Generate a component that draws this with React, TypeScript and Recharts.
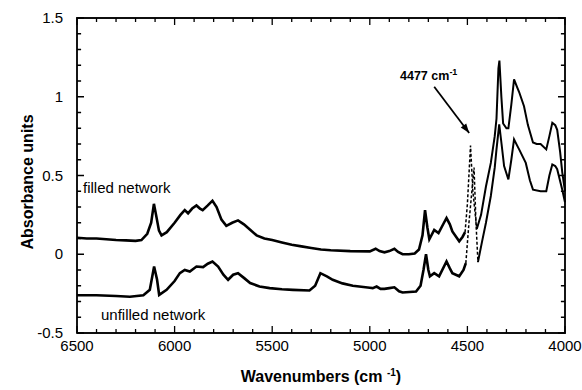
import { LineChart, Line, XAxis, YAxis, ReferenceLine, Customized } from "recharts";

// [wavenumber cm-1, absorbance]
const filledMain: [number, number][] = [
  [6500, 0.105], [6450, 0.1], [6400, 0.1], [6350, 0.095], [6300, 0.09], [6250, 0.088],
  [6200, 0.085], [6170, 0.09], [6140, 0.13], [6120, 0.2], [6106, 0.32], [6095, 0.25],
  [6080, 0.15], [6067, 0.12], [6040, 0.14], [6000, 0.2], [5970, 0.25], [5948, 0.28],
  [5931, 0.26], [5910, 0.29], [5888, 0.31], [5870, 0.29], [5856, 0.28], [5830, 0.31],
  [5806, 0.34], [5785, 0.3], [5760, 0.22], [5735, 0.18], [5705, 0.2], [5675, 0.215],
  [5645, 0.19], [5613, 0.155], [5580, 0.12], [5540, 0.1], [5500, 0.09], [5450, 0.075],
  [5400, 0.06], [5350, 0.05], [5300, 0.04], [5250, 0.03], [5200, 0.025], [5100, 0.02],
  [5000, 0.018], [4970, 0.035], [4950, 0.02], [4925, 0.012], [4900, 0.02], [4874, 0.035],
  [4855, 0.015], [4832, 0], [4800, 0], [4770, 0.005], [4748, 0.03], [4730, 0.12],
  [4717, 0.28], [4705, 0.17], [4695, 0.095], [4670, 0.155], [4648, 0.135], [4620, 0.2],
  [4607, 0.23], [4590, 0.19], [4577, 0.145], [4542, 0.082], [4525, 0.11], [4512, 0.14],
];
const filledGap: [number, number][] = [
  [4512, 0.14], [4500, 0.32], [4484, 0.69], [4472, 0.4], [4452, 0.16],
];
const filledTail: [number, number][] = [
  [4452, 0.16], [4430, 0.25], [4405, 0.43], [4380, 0.58], [4360, 0.75], [4351, 0.86],
  [4341, 1.18], [4336, 1.23], [4326, 1.0], [4317, 0.83], [4300, 0.8], [4290, 0.8],
  [4275, 0.95], [4261, 1.11], [4245, 1.06], [4235, 1.03], [4210, 0.94], [4190, 0.82],
  [4164, 0.71], [4145, 0.7], [4125, 0.7], [4096, 0.666], [4080, 0.75], [4065, 0.835],
  [4050, 0.82], [4040, 0.79], [4025, 0.65], [4014, 0.52], [4000, 0.4],
];

const unfilledMain: [number, number][] = [
  [6500, -0.26], [6400, -0.26], [6300, -0.265], [6229, -0.27], [6160, -0.26], [6127, -0.226],
  [6105, -0.078], [6090, -0.16], [6079, -0.258], [6041, -0.226], [6000, -0.17], [5973, -0.12],
  [5948, -0.1], [5922, -0.11], [5888, -0.078], [5854, -0.082], [5830, -0.06], [5806, -0.046],
  [5777, -0.078], [5750, -0.13], [5726, -0.162], [5700, -0.13], [5675, -0.12], [5645, -0.15],
  [5613, -0.183], [5565, -0.205], [5513, -0.215], [5450, -0.222], [5394, -0.226], [5309, -0.23],
  [5280, -0.2], [5253, -0.12], [5220, -0.14], [5190, -0.162], [5140, -0.185], [5087, -0.2],
  [5000, -0.213], [4985, -0.215], [4965, -0.205], [4945, -0.22], [4925, -0.22], [4900, -0.215],
  [4874, -0.21], [4850, -0.235], [4832, -0.243], [4763, -0.237], [4740, -0.2], [4725, -0.1],
  [4712, 0], [4700, -0.1], [4692, -0.14], [4670, -0.12], [4645, -0.14], [4607, -0.046],
  [4590, -0.09], [4577, -0.12], [4542, -0.14], [4520, -0.1], [4508, -0.056],
];
const unfilledGap: [number, number][] = [
  [4508, -0.056], [4492, 0.2], [4466, 0.55], [4456, 0.2], [4446, -0.05],
];
const unfilledTail: [number, number][] = [
  [4446, -0.05], [4425, 0.08], [4405, 0.2], [4380, 0.37], [4360, 0.55], [4351, 0.666],
  [4337, 0.825], [4325, 0.7], [4312, 0.56], [4290, 0.475], [4275, 0.6], [4261, 0.73],
  [4245, 0.69], [4235, 0.666], [4201, 0.58], [4180, 0.47], [4164, 0.41], [4125, 0.4],
  [4096, 0.4], [4080, 0.5], [4065, 0.57], [4050, 0.56], [4040, 0.54], [4014, 0.41],
  [4000, 0.33],
];

const xTicks = [
  6500, 6400, 6300, 6200, 6100, 6000, 5900, 5800, 5700, 5600, 5500, 5400, 5300,
  5200, 5100, 5000, 4900, 4800, 4700, 4600, 4500, 4400, 4300, 4200, 4100, 4000,
];
const yTicks = [
  -0.5, -0.4, -0.3, -0.2, -0.1, 0, 0.1, 0.2, 0.3, 0.4, 0.5, 0.6, 0.7, 0.8, 0.9, 1,
  1.1, 1.2, 1.3, 1.4, 1.5,
];
const X_DOMAIN: [number, number] = [4000, 6500];
const Y_DOMAIN: [number, number] = [-0.5, 1.5];
const arrowFrom = { w: 4670, a: 1.063 };
const arrowTo = { w: 4491, a: 0.77 };

const toRows = (pts: [number, number][]) => pts.map(([w, a]) => ({ w, a }));

const FONT = '"Liberation Sans", Arial, Helvetica, sans-serif';
const isMajorX = (v: number) => v % 500 === 0;
const isMajorY = (v: number) => Math.abs(v * 2 - Math.round(v * 2)) < 1e-6;

// inward tick lengths, in data units (about 7px major / 4px minor)
const xTickLen = (v: number) => (isMajorX(v) ? 0.045 : 0.026);
const yTickLen = (v: number) => (isMajorY(v) ? 36 : 21);

const [X0, X1] = X_DOMAIN;
const [Y0, Y1] = Y_DOMAIN;

// frame and tick marks as polylines through the chart's own scales
const frameRows = [
  { w: X1, a: Y0 }, { w: X0, a: Y0 }, { w: X0, a: Y1 }, { w: X1, a: Y1 }, { w: X1, a: Y0 },
];
const bottomTickRows = xTicks.flatMap((t) => [
  { w: t, a: Y0 }, { w: t, a: Y0 + xTickLen(t) }, { w: t, a: Y0 },
]);
const topTickRows = xTicks.flatMap((t) => [
  { w: t, a: Y1 }, { w: t, a: Y1 - xTickLen(t) }, { w: t, a: Y1 },
]);
const leftTickRows = yTicks.flatMap((t) => [
  { w: X1, a: t }, { w: X1 - yTickLen(t), a: t }, { w: X1, a: t },
]);
const rightTickRows = yTicks.flatMap((t) => [
  { w: X0, a: t }, { w: X0 + yTickLen(t), a: t }, { w: X0, a: t },
]);

const BottomLabel = (props: any) => {
  const { x, y, payload } = props;
  if (!isMajorX(payload.value)) return <g />;
  return (
    <text x={x} y={y + 18} textAnchor="middle" fontSize={15} fontFamily={FONT} fill="#000">
      {payload.value}
    </text>
  );
};

const LeftLabel = (props: any) => {
  const { x, y, payload } = props;
  if (!isMajorY(payload.value)) return <g />;
  return (
    <text x={x - 14} y={y + 5} textAnchor="end" fontSize={15} fontFamily={FONT} fill="#000">
      {String(payload.value)}
    </text>
  );
};

const Arrow = (props: any) => {
  const { x1, y1, x2, y2 } = props;
  const ang = Math.atan2(y2 - y1, x2 - x1);
  const len = 10;
  const spread = 0.35;
  const p1 = [x2 - len * Math.cos(ang - spread), y2 - len * Math.sin(ang - spread)];
  const p2 = [x2 - len * Math.cos(ang + spread), y2 - len * Math.sin(ang + spread)];
  return (
    <g>
      <line x1={x1} y1={y1} x2={x2} y2={y2} stroke="#000" strokeWidth={1.8} />
      <polygon points={`${x2},${y2} ${p1[0]},${p1[1]} ${p2[0]},${p2[1]}`} fill="#000" />
    </g>
  );
};

const Annotations = () => (
  <g fontFamily={FONT} fill="#000">
    <text x={83} y={193} fontSize={15}>filled network</text>
    <text x={101} y={320} fontSize={15}>unfilled network</text>
    <text x={400} y={80} fontSize={12.5} fontWeight="bold">
      4477{"  "}cm<tspan dy={-5} fontSize={9}>-1</tspan>
    </text>
    <text x={321} y={382} textAnchor="middle" fontSize={16} fontWeight="bold">
      Wavenumbers (cm <tspan dy={-6} fontSize={10}>-1</tspan><tspan dy={6}>)</tspan>
    </text>
    <text
      x={27}
      y={182}
      textAnchor="middle"
      fontSize={16}
      fontWeight="bold"
      transform="rotate(-90 27 182)"
      dy={6}
    >
      Absorbance units
    </text>
  </g>
);

export default function App() {
  const solid = { stroke: "#000", strokeWidth: 2.6, dot: false, isAnimationActive: false, type: "linear" as const };
  const dashed = { stroke: "#000", strokeWidth: 1.5, strokeDasharray: "3 2", dot: false, isAnimationActive: false, type: "linear" as const };
  const axisStroke = { stroke: "#000", dot: false, isAnimationActive: false, type: "linear" as const, activeDot: false };
  return (
    <div style={{ position: "absolute", left: 0, top: 0, background: "#fff" }}>
      <LineChart width={582} height={390} margin={{ top: 18, right: 17, bottom: 0, left: 0 }}>
        <XAxis
          dataKey="w"
          type="number"
          domain={X_DOMAIN}
          reversed
          ticks={xTicks}
          interval={0}
          tickSize={0}
          tickMargin={0}
          tickLine={false}
          axisLine={false}
          tick={<BottomLabel />}
          height={57}
        />
        <YAxis
          type="number"
          domain={Y_DOMAIN}
          ticks={yTicks}
          interval={0}
          tickSize={0}
          tickMargin={0}
          tickLine={false}
          axisLine={false}
          tick={<LeftLabel />}
          width={77}
        />
        <Line data={frameRows} dataKey="a" {...axisStroke} strokeWidth={1.5} />
        <Line data={bottomTickRows} dataKey="a" {...axisStroke} strokeWidth={1.3} />
        <Line data={topTickRows} dataKey="a" {...axisStroke} strokeWidth={1.3} />
        <Line data={leftTickRows} dataKey="a" {...axisStroke} strokeWidth={1.3} />
        <Line data={rightTickRows} dataKey="a" {...axisStroke} strokeWidth={1.3} />
        <Line data={toRows(filledMain)} dataKey="a" {...solid} />
        <Line data={toRows(filledGap)} dataKey="a" {...dashed} />
        <Line data={toRows(filledTail)} dataKey="a" {...solid} strokeWidth={2} />
        <Line data={toRows(unfilledMain)} dataKey="a" {...solid} />
        <Line data={toRows(unfilledGap)} dataKey="a" {...dashed} />
        <Line data={toRows(unfilledTail)} dataKey="a" {...solid} strokeWidth={2} />
        <ReferenceLine
          segment={[{ x: arrowFrom.w, y: arrowFrom.a }, { x: arrowTo.w, y: arrowTo.a }]}
          shape={<Arrow />}
          ifOverflow="visible"
        />
        <Customized component={<Annotations />} />
      </LineChart>
    </div>
  );
}
